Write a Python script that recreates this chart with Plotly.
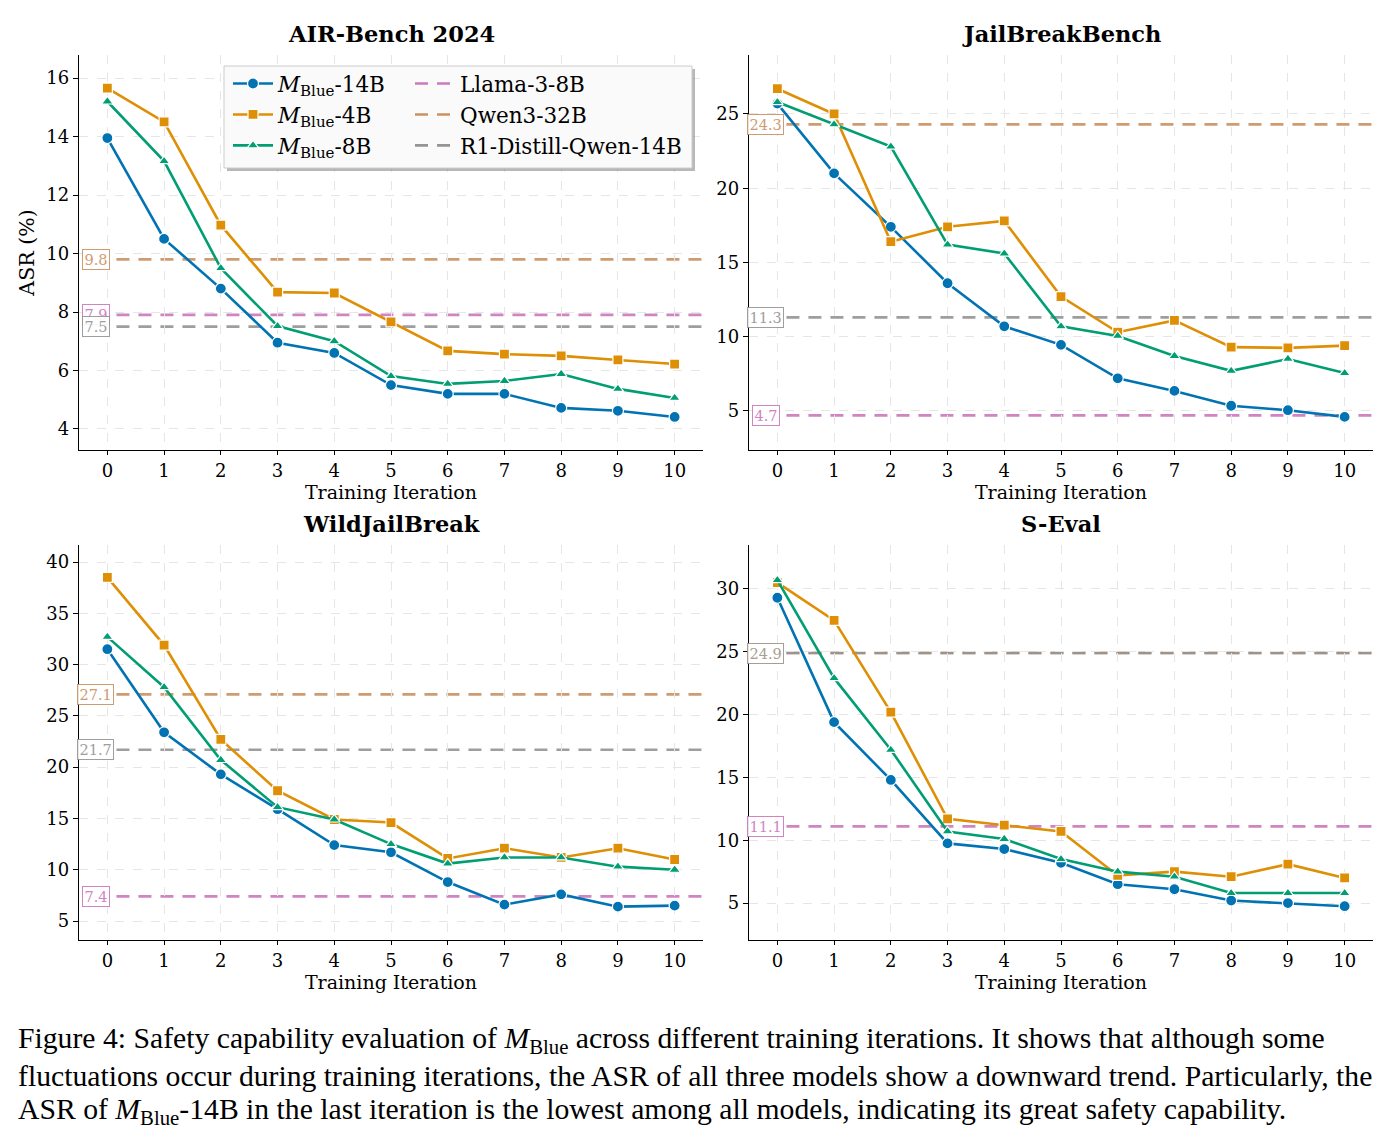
import plotly.graph_objects as go

iterations = list(range(11))
benchmarks = ["AIR-Bench 2024", "JailBreakBench", "WildJailBreak", "S-Eval"]

blue14 = {
    "AIR-Bench 2024": [13.95, 10.5, 8.8, 6.95, 6.6, 5.5, 5.2, 5.2, 4.72, 4.62, 4.41],
    "JailBreakBench": [25.7, 21.0, 17.4, 13.6, 10.7, 9.45, 7.2, 6.35, 5.35, 5.05, 4.6],
    "WildJailBreak": [31.5, 23.4, 19.3, 15.9, 12.4, 11.7, 8.8, 6.6, 7.6, 6.4, 6.5],
    "S-Eval": [29.3, 19.4, 14.8, 9.75, 9.3, 8.2, 6.5, 6.1, 5.2, 5.0, 4.75],
}
blue4 = {
    "AIR-Bench 2024": [15.66, 14.5, 10.97, 8.68, 8.65, 7.66, 6.67, 6.56, 6.5, 6.36, 6.22],
    "JailBreakBench": [26.7, 25.0, 16.4, 17.4, 17.8, 12.7, 10.3, 11.1, 9.3, 9.25, 9.4],
    "WildJailBreak": [38.5, 31.9, 22.7, 17.7, 14.9, 14.6, 11.1, 12.1, 11.2, 12.1, 11.0],
    "S-Eval": [30.5, 27.5, 20.2, 11.7, 11.2, 10.7, 7.2, 7.5, 7.1, 8.1, 7.0],
}
blue8 = {
    "AIR-Bench 2024": [15.2, 13.16, 9.5, 7.52, 7.0, 5.81, 5.54, 5.64, 5.88, 5.37, 5.06],
    "JailBreakBench": [25.8, 24.3, 22.8, 16.2, 15.6, 10.7, 10.05, 8.7, 7.7, 8.5, 7.55],
    "WildJailBreak": [32.7, 27.8, 20.7, 16.1, 14.9, 12.5, 10.6, 11.2, 11.2, 10.3, 10.0],
    "S-Eval": [30.7, 22.9, 17.2, 10.7, 10.1, 8.5, 7.5, 7.1, 5.8, 5.8, 5.8],
}
llama = {"AIR-Bench 2024": 7.9, "JailBreakBench": 4.7, "WildJailBreak": 7.4, "S-Eval": 11.1}
qwen32 = {"AIR-Bench 2024": 9.8, "JailBreakBench": 24.3, "WildJailBreak": 27.1, "S-Eval": 24.9}
r1 = {"AIR-Bench 2024": 7.5, "JailBreakBench": 11.3, "WildJailBreak": 21.7, "S-Eval": 24.9}

y_ranges = {"AIR-Bench 2024": [3.28, 16.79], "JailBreakBench": [2.37, 28.97],
            "WildJailBreak": [3.15, 41.66], "S-Eval": [2.06, 33.5]}
y_dticks = {"AIR-Bench 2024": 2, "JailBreakBench": 5, "WildJailBreak": 5, "S-Eval": 5}

C_BLUE, C_ORANGE, C_GREEN = "#0173b2", "#de8f05", "#029e73"
C_PINK, C_TAN, C_GRAY = "#cc78bc", "#ca9161", "#949494"

W, H = 1399, 1145
def px_x(p): return p / W
def px_y(p): return 1 - p / H

domains = [
    ([px_x(79), px_x(703)], [px_y(450), px_y(55)]),
    ([px_x(749), px_x(1373)], [px_y(450), px_y(55)]),
    ([px_x(79), px_x(703)], [px_y(940), px_y(545)]),
    ([px_x(749), px_x(1373)], [px_y(940), px_y(545)]),
]

SERIF = "DejaVu Serif"
fig = go.Figure()
annotations = []
shapes = []

series = [("<i>M</i><sub>Blue</sub>-14B", blue14, C_BLUE, "circle", 11),
          ("<i>M</i><sub>Blue</sub>-4B", blue4, C_ORANGE, "square", 10),
          ("<i>M</i><sub>Blue</sub>-8B", blue8, C_GREEN, "triangle-up", 10)]

for i, b in enumerate(benchmarks):
    xa = "x" if i == 0 else f"x{i+1}"
    ya = "y" if i == 0 else f"y{i+1}"
    xkey = "xaxis" if i == 0 else f"xaxis{i+1}"
    ykey = "yaxis" if i == 0 else f"yaxis{i+1}"
    dx, dy = domains[i]
    for name, vals, col in [("Llama-3-8B", llama, C_PINK), ("Qwen3-32B", qwen32, C_TAN),
                            ("R1-Distill-Qwen-14B", r1, C_GRAY)]:
        v = vals[b]
        shapes.append(dict(type="line", xref=f"{xa} domain", yref=ya, x0=0.06, x1=1, y0=v, y1=v,
                           line=dict(color=col, width=2.6, dash="13px,9px"), opacity=0.9, layer="below"))
    labels = [(llama[b], C_PINK), (qwen32[b], C_TAN), (r1[b], C_GRAY)]
    if b == "S-Eval":
        labels = [(llama[b], C_PINK), (r1[b], "#a09488")]
    for v, col in labels:
        annotations.append(dict(xref=f"{xa} domain", yref=ya, x=0.027, y=v, text=f"{v:.1f}",
                                showarrow=False, font=dict(family=SERIF, size=14.5, color=col),
                                bgcolor="white", bordercolor=col, borderwidth=1, borderpad=1.5,
                                xanchor="center", yanchor="middle", opacity=0.9))
    for name, data, col, sym, sz in series:
        fig.add_trace(go.Scatter(x=iterations, y=data[b], mode="lines+markers", name=name,
                                 xaxis=xa, yaxis=ya, showlegend=(i == 0), legend="legend",
                                 line=dict(color=col, width=2.6),
                                 marker=dict(symbol=sym, size=sz, color=col,
                                             line=dict(color="white", width=1.2))))
    fig.layout[xkey] = dict(domain=dx, anchor=ya, range=[-0.5, 10.5], tickvals=iterations,
                            showline=True, linecolor="black", linewidth=1.3, ticks="outside",
                            ticklen=4, tickcolor="black", showgrid=True, gridcolor="#e6e6e6",
                            griddash="dash", gridwidth=1, zeroline=False,
                            tickfont=dict(family=SERIF, size=18, color="black"),
                            title=dict(text="Training Iteration", standoff=0,
                                       font=dict(family=SERIF, size=19, color="black")))
    fig.layout[ykey] = dict(domain=dy, anchor=xa, range=y_ranges[b], dtick=y_dticks[b],
                            showline=True, linecolor="black", linewidth=1.3, ticks="outside",
                            ticklen=5, tickcolor="black", showgrid=True, gridcolor="#e6e6e6",
                            griddash="dash", gridwidth=1, zeroline=False,
                            tickfont=dict(family=SERIF, size=18, color="black"))
    annotations.append(dict(xref="paper", yref="paper", x=(dx[0] + dx[1]) / 2, y=dy[1] + 6 / H,
                            text=f"<b>{b}</b>", showarrow=False, xanchor="center", yanchor="bottom",
                            font=dict(family=SERIF, size=22.5, color="black")))

fig.layout["yaxis"]["title"] = dict(text="ASR (%)", standoff=6,
                                    font=dict(family=SERIF, size=20.5, color="black"))

for name, col in [("Llama-3-8B", C_PINK), ("Qwen3-32B", C_TAN), ("R1-Distill-Qwen-14B", C_GRAY)]:
    fig.add_trace(go.Scatter(x=[None], y=[None], mode="lines", name=name, legend="legend2",
                             line=dict(color=col, width=2.6, dash="13px,9px")))

# legend box with shadow
shapes.append(dict(type="rect", xref="paper", yref="paper", x0=px_x(227), x1=px_x(695),
                   y0=px_y(171), y1=px_y(69), fillcolor="#888888", line=dict(width=0),
                   layer="above", opacity=0.6))
shapes.append(dict(type="rect", xref="paper", yref="paper", x0=px_x(224), x1=px_x(692),
                   y0=px_y(168), y1=px_y(66), fillcolor="#fafafa",
                   line=dict(color="#cccccc", width=1), layer="above"))

caption = [
    "Figure 4: Safety capability evaluation of <i>M</i><sub>Blue</sub> across different training iterations. It shows that although some",
    "fluctuations occur during training iterations, the ASR of all three models show a downward trend. Particularly, the",
    "ASR of <i>M</i><sub>Blue</sub>-14B in the last iteration is the lowest among all models, indicating its great safety capability.",
]
for k, line in enumerate(caption):
    annotations.append(dict(xref="paper", yref="paper", x=px_x(16), y=px_y([1040, 1076, 1111][k]),
                            text=line, showarrow=False, xanchor="left", yanchor="middle", align="left",
                            font=dict(family="Liberation Serif", size=29.7, color="black")))

fig.update_layout(
    width=W, height=H, margin=dict(l=0, r=0, t=0, b=0),
    paper_bgcolor="white", plot_bgcolor="white",
    shapes=shapes, annotations=annotations,
    legend=dict(x=px_x(228), y=px_y(63), xanchor="left", yanchor="top", bgcolor="rgba(0,0,0,0)",
                font=dict(family=SERIF, size=21.5, color="black"), tracegroupgap=0, itemwidth=40),
    legend2=dict(x=px_x(410), y=px_y(63), xanchor="left", yanchor="top", bgcolor="rgba(0,0,0,0)",
                 font=dict(family=SERIF, size=21.5, color="black"), tracegroupgap=0, itemwidth=40),
)

fig.write_html("out.html")
